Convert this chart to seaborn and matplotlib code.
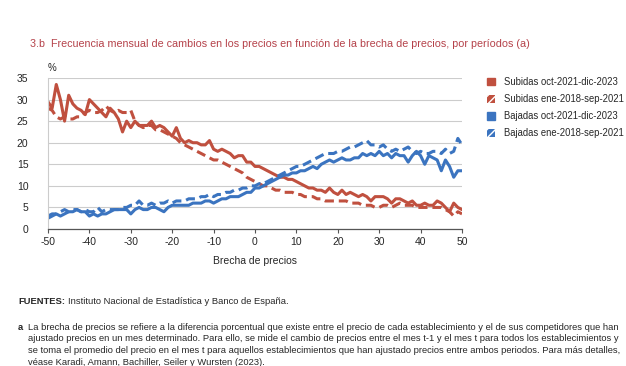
import numpy as np
import pandas as pd
import matplotlib
matplotlib.use("Agg")
import matplotlib.pyplot as plt
import seaborn as sns
from matplotlib.patches import Patch

brecha = list(range(-50, 51))

subidas_2123 = [29.5, 28, 33.5, 30, 25, 31, 29, 28, 27.5, 26.5,
                30, 29, 28, 27, 26, 28, 27, 25.5, 22.5, 25,
                23.5, 25, 24, 24, 24, 25, 23.5, 24, 23.5, 22.5,
                21.5, 23.5, 21, 20, 20.5, 20, 20, 19.5, 19.5, 20.5,
                18.5, 18, 18.5, 18, 17.5, 16.5, 17, 17, 15.5, 15.5,
                14.5, 14.5, 14, 13.5, 13, 12.5, 12, 12, 11.5, 11.5,
                11, 10.5, 10, 9.5, 9.5, 9, 9, 8.5, 9.5, 8.5,
                8, 9, 8, 8.5, 8, 7.5, 8, 7.5, 6.5, 7.5,
                7.5, 7.5, 7, 6, 7, 7, 6.5, 6, 6.5, 5.5,
                5.5, 6, 5.5, 5.5, 6.5, 6, 5, 4, 6, 5,
                4.5]

subidas_1821 = [28, 27.5, 26, 25.5, 26, 25.5, 25.5, 26, 26, 27,
                27.5, 27, 27, 27.5, 28.5, 27.5, 27, 27.5, 27, 27,
                27.5, 25, 24, 23.5, 24, 24, 23, 23, 22.5, 22,
                21.5, 21, 20, 19.5, 19, 18.5, 18, 17.5, 17, 16.5,
                16, 16, 15.5, 15, 14.5, 14, 13.5, 13, 12, 11.5,
                11, 10.5, 10, 10, 9.5, 9, 9, 8.5, 8.5, 8.5,
                8, 8, 7.5, 7.5, 7.5, 7, 7, 6.5, 6.5, 6.5,
                6.5, 6.5, 6.5, 6, 6, 6, 5.5, 5.5, 5.5, 5,
                5, 5.5, 5.5, 5, 5.5, 6, 5.5, 5.5, 5.5, 5,
                5, 5, 5, 5, 5, 5, 4.5, 4, 3, 4,
                3.5]

bajadas_2123 = [2.5, 3, 3.5, 3, 3.5, 4, 4, 4.5, 4, 4,
                3, 3.5, 3, 3.5, 3.5, 4, 4.5, 4.5, 4.5, 4.5,
                3.5, 4.5, 5, 4.5, 4.5, 5, 5, 4.5, 4, 5,
                5.5, 5.5, 5.5, 5.5, 5.5, 6, 6, 6, 6.5, 6.5,
                6, 6.5, 7, 7, 7.5, 7.5, 7.5, 8, 8.5, 8.5,
                9.5, 9.5, 10, 10.5, 11, 11.5, 12, 12.5, 12.5, 13,
                13, 13.5, 13.5, 14, 14.5, 14, 15, 15.5, 16, 15.5,
                16, 16.5, 16, 16, 16.5, 16.5, 17.5, 17, 17.5, 17,
                18, 17, 17.5, 16.5, 17.5, 17, 17, 15.5, 17, 18,
                17, 15, 17, 16.5, 16, 13.5, 16, 14.5, 12, 13.5,
                13.5]

bajadas_1821 = [3, 3.5, 3.5, 4, 4.5, 4, 4.5, 4.5, 4, 4.5,
                4, 4, 5, 4, 4.5, 4.5, 4.5, 4.5, 5, 5,
                5.5, 5.5, 6.5, 5.5, 5.5, 6, 5.5, 6, 6, 6.5,
                6, 6.5, 6.5, 6.5, 7, 7, 7, 7.5, 7.5, 8,
                7.5, 8, 8, 8.5, 8.5, 9, 9, 9.5, 9.5, 10,
                10, 10.5, 10.5, 11, 11.5, 12, 12.5, 13, 13.5, 14,
                14.5, 14.5, 15, 15.5, 16, 16.5, 17, 17.5, 17.5, 17.5,
                18, 18, 18.5, 19, 19, 19.5, 20, 20.5, 19.5, 19.5,
                19, 19.5, 18.5, 18, 18.5, 18, 18.5, 19, 18, 17.5,
                18, 17.5, 17.5, 18, 18, 17.5, 18.5, 17.5, 18, 21,
                19.5]

series = {
    "Subidas oct-2021-dic-2023": subidas_2123,
    "Subidas ene-2018-sep-2021": subidas_1821,
    "Bajadas oct-2021-dic-2023": bajadas_2123,
    "Bajadas ene-2018-sep-2021": bajadas_1821,
}

rows = []
for name, vals in series.items():
    for x, v in zip(brecha, vals):
        rows.append({"brecha": x, "valor": v, "serie": name})
df = pd.DataFrame(rows)

red = "#c0503f"
blue = "#3b74c0"
palette = {
    "Subidas oct-2021-dic-2023": red,
    "Subidas ene-2018-sep-2021": red,
    "Bajadas oct-2021-dic-2023": blue,
    "Bajadas ene-2018-sep-2021": blue,
}
dashes = {
    "Subidas oct-2021-dic-2023": "",
    "Subidas ene-2018-sep-2021": (3, 1.6),
    "Bajadas oct-2021-dic-2023": "",
    "Bajadas ene-2018-sep-2021": (3, 1.6),
}

sns.set_theme(style="white")
plt.rcParams["font.family"] = ["Liberation Sans", "DejaVu Sans"]
plt.rcParams["axes.unicode_minus"] = False

fig = plt.figure(figsize=(6.26, 3.66), dpi=100)
ax = fig.add_axes([48 / 626, 1 - 229 / 366, (462 - 48) / 626, (229 - 78) / 366])

sns.lineplot(data=df, x="brecha", y="valor", hue="serie", style="serie",
             palette=palette, dashes=dashes, linewidth=2.2, legend=False, ax=ax)

ax.set_xlim(-50, 50)
ax.set_ylim(0, 35)
ax.set_xticks(range(-50, 51, 10))
ax.set_yticks(range(0, 36, 5))
ax.yaxis.grid(True, color="#cccccc", linewidth=0.8)
ax.set_axisbelow(True)
for s in ["top", "right"]:
    ax.spines[s].set_visible(False)
ax.spines["left"].set_color("#cccccc")
ax.spines["left"].set_linewidth(0.8)
ax.spines["bottom"].set_color("#555555")
ax.spines["bottom"].set_linewidth(0.9)
ax.tick_params(axis="x", bottom=True, length=3, width=0.8, color="#555555",
               labelsize=7.5, pad=3)
ax.tick_params(axis="y", left=False, labelsize=7.5, pad=8)
ax.set_xlabel("Brecha de precios", fontsize=7.5, labelpad=6)
ax.set_ylabel("")

fig.text(48 / 626, 1 - 68 / 366, "%", fontsize=7, va="center", ha="left")
fig.text(30 / 626, 1 - 44 / 366,
         "3.b  Frecuencia mensual de cambios en los precios en función de la brecha de precios, por períodos (a)",
         fontsize=7.75, color="#b5424a", va="center", ha="left")

handles = [
    Patch(facecolor=red, edgecolor=red),
    Patch(facecolor=red, edgecolor="white", hatch="////", linewidth=0),
    Patch(facecolor=blue, edgecolor=blue),
    Patch(facecolor=blue, edgecolor="white", hatch="////", linewidth=0),
]
fig.legend(handles, list(series.keys()), loc="upper left",
           bbox_to_anchor=(483 / 626, 1 - 73 / 366), frameon=False,
           fontsize=6.85, handlelength=0.9, handleheight=0.9,
           handletextpad=0.95, labelspacing=0.75, borderaxespad=0)

fs = 6.75
t = fig.text(18 / 626, 1 - 302 / 366, "FUENTES:", fontsize=fs, weight="bold",
             va="center", ha="left")
fig.canvas.draw()
bb = t.get_window_extent()
fig.text((bb.x1 + 3) / 626, 1 - 302 / 366,
         "Instituto Nacional de Estadística y Banco de España.",
         fontsize=fs, va="center", ha="left")

fig.text(18 / 626, 1 - 327 / 366, "a", fontsize=fs, weight="bold",
         va="center", ha="left")
nota = ["La brecha de precios se refiere a la diferencia porcentual que existe entre el precio de cada establecimiento y el de sus competidores que han",
        "ajustado precios en un mes determinado. Para ello, se mide el cambio de precios entre el mes t-1 y el mes t para todos los establecimientos y",
        "se toma el promedio del precio en el mes t para aquellos establecimientos que han ajustado precios entre ambos periodos. Para más detalles,",
        "véase Karadi, Amann, Bachiller, Seiler y Wursten (2023)."]
for i, line in enumerate(nota):
    fig.text(28 / 626, 1 - (327 + 11.9 * i) / 366, line, fontsize=fs,
             va="center", ha="left")

fig.savefig("out.png", dpi=100)
